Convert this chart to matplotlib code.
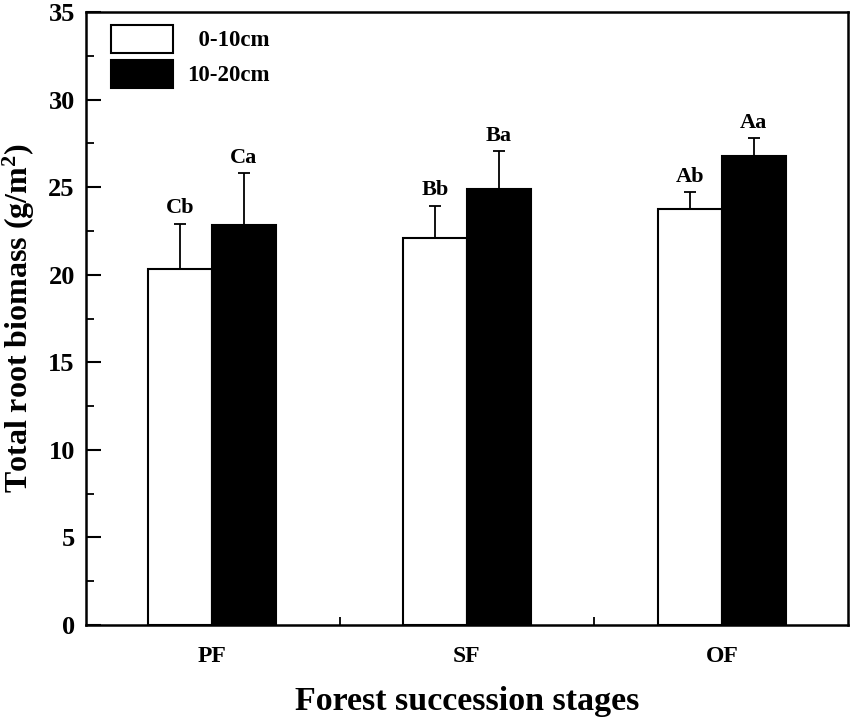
import matplotlib
matplotlib.use("Agg")
import matplotlib.pyplot as plt
import numpy as np
from matplotlib.ticker import MultipleLocator, FixedLocator

plt.rcParams['font.family'] = ['Liberation Serif', 'DejaVu Serif']
plt.rcParams['font.weight'] = 'bold'
plt.rcParams['mathtext.fontset'] = 'custom'
plt.rcParams['mathtext.rm'] = 'Liberation Serif:bold'
plt.rcParams['mathtext.bf'] = 'Liberation Serif:bold'
plt.rcParams['mathtext.it'] = 'Liberation Serif:bold'
plt.rcParams['mathtext.default'] = 'bf'

categories = ["PF", "SF", "OF"]
series_names = ["0-10cm", "10-20cm"]
shallow = [20.3, 22.1, 23.75]
shallow_err = [2.6, 1.85, 0.95]
deep = [22.85, 24.9, 26.8]
deep_err = [2.95, 2.15, 1.0]
shallow_letters = ["Cb", "Bb", "Ab"]
deep_letters = ["Ca", "Ba", "Aa"]

fig = plt.figure(figsize=(8.51, 7.22), dpi=100)
ax = fig.add_axes([0.101, 0.1343, 0.8955, 0.8491])

x = np.arange(len(categories))
w = 0.25
ekw = dict(elinewidth=1.3, capthick=1.3, ecolor='black')
ax.bar(x - w/2, shallow, w, color='white', edgecolor='black', linewidth=1.5,
       yerr=[np.zeros(3), shallow_err], capsize=4.3, error_kw=ekw,
       label="  " + series_names[0], zorder=2)
ax.bar(x + w/2, deep, w, color='black', edgecolor='black', linewidth=1.5,
       yerr=[np.zeros(3), deep_err], capsize=4.3, error_kw=ekw,
       label=series_names[1], zorder=2)

for xi, v, e, t in zip(x - w/2, shallow, shallow_err, shallow_letters):
    ax.annotate(t, (xi, v + e), xytext=(0, 4), textcoords='offset points',
                ha='center', va='bottom', fontsize=16, fontweight='bold')
for xi, v, e, t in zip(x + w/2, deep, deep_err, deep_letters):
    ax.annotate(t, (xi, v + e), xytext=(0, 4), textcoords='offset points',
                ha='center', va='bottom', fontsize=16, fontweight='bold')

ax.set_xlim(-0.495, 2.495)
ax.set_ylim(0, 35)
ax.set_xticks(x)
ax.set_xticklabels(categories)
ax.xaxis.set_minor_locator(FixedLocator([0.5, 1.5]))
ax.yaxis.set_major_locator(MultipleLocator(5))
ax.yaxis.set_minor_locator(MultipleLocator(2.5))
ax.tick_params(axis='x', which='major', length=0, pad=15, labelsize=17)
ax.tick_params(axis='x', which='minor', direction='in', length=6, width=1.3)
ax.tick_params(axis='y', which='major', direction='in', length=11, width=1.5, labelsize=19, pad=8)
ax.tick_params(axis='y', which='minor', direction='in', length=6, width=1.3)
for lab in ax.get_xticklabels() + ax.get_yticklabels():
    lab.set_fontweight('bold')
for s in ax.spines.values():
    s.set_linewidth(1.8)

ax.set_xlabel("Forest succession stages", fontsize=24.5, fontweight='bold', labelpad=14)
ax.set_ylabel("Total root biomass (g/m$^{2}$)", fontsize=23, fontweight='bold', labelpad=8)

leg = ax.legend(loc='upper left', bbox_to_anchor=(0.033, 0.979), frameon=False,
                fontsize=16.5, handlelength=2.7, handleheight=1.5, handletextpad=0.6,
                labelspacing=0.3, borderaxespad=0, borderpad=0)
for t in leg.get_texts():
    t.set_fontweight('bold')

fig.savefig("out.png", dpi=100)
